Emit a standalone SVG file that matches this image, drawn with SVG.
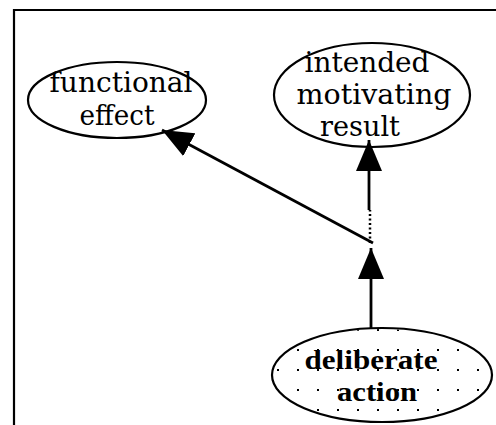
<svg xmlns="http://www.w3.org/2000/svg" width="496" height="425" viewBox="0 0 496 425">
<style>
.node{fill:#fff;stroke:#000;stroke-width:2.2}
.lbl{font-family:"DejaVu Serif","Liberation Serif",serif;font-size:27px;fill:#000;text-anchor:middle}
.blbl{font-family:"Liberation Serif",serif;font-weight:bold;font-size:28px;fill:#000;text-anchor:middle}
.edge{stroke:#000;stroke-width:2.8;fill:none}
</style>
<defs>
<marker id="ah" viewBox="0 -13 31 26" refX="31" refY="0" markerWidth="31" markerHeight="26" markerUnits="userSpaceOnUse" orient="auto">
<path d="M0,-13 L31,0 L0,13 Z" fill="#000"/>
</marker>
<pattern id="dots" patternUnits="userSpaceOnUse" x="0" y="0" width="20" height="20">
<rect x="17" y="9" width="2" height="2" fill="#000"/>
</pattern>
</defs>
<rect width="496" height="425" fill="#fff"/>
<path d="M14,425 L14,10 L496,10" stroke="#000" stroke-width="2.2" fill="none"/>
<g id="functional-effect">
<ellipse class="node" cx="117" cy="100" rx="89" ry="38"/>
<text class="lbl" x="121" y="92" textLength="143" lengthAdjust="spacingAndGlyphs">functional</text>
<text class="lbl" x="117" y="125" textLength="75" lengthAdjust="spacingAndGlyphs">effect</text>
</g>
<g id="intended-motivating-result">
<ellipse class="node" cx="372" cy="95" rx="98" ry="52"/>
<text class="lbl" x="367" y="72" textLength="125" lengthAdjust="spacingAndGlyphs">intended</text>
<text class="lbl" x="374" y="104" textLength="155" lengthAdjust="spacingAndGlyphs">motivating</text>
<text class="lbl" x="360" y="136" textLength="80" lengthAdjust="spacingAndGlyphs">result</text>
</g>
<g id="deliberate-action">
<ellipse class="node" cx="382" cy="375" rx="110" ry="47"/>
<ellipse cx="382" cy="375" rx="109" ry="46" fill="url(#dots)"/>
<text class="blbl" x="371" y="369" textLength="133" lengthAdjust="spacingAndGlyphs">deliberate</text>
<text class="blbl" x="377" y="401" textLength="80" lengthAdjust="spacingAndGlyphs">action</text>
</g>
<g id="connectors">
<line class="edge" x1="371" y1="328" x2="371" y2="248" marker-end="url(#ah)"/>
<line x1="370" y1="243" x2="370" y2="210" stroke="#000" stroke-width="2.5" stroke-dasharray="2 2.5"/>
<line class="edge" x1="369" y1="210" x2="369" y2="140" marker-end="url(#ah)"/>
<line class="edge" x1="373" y1="243" x2="162" y2="130" stroke-width="3.2" marker-end="url(#ah)"/>
</g>
</svg>
